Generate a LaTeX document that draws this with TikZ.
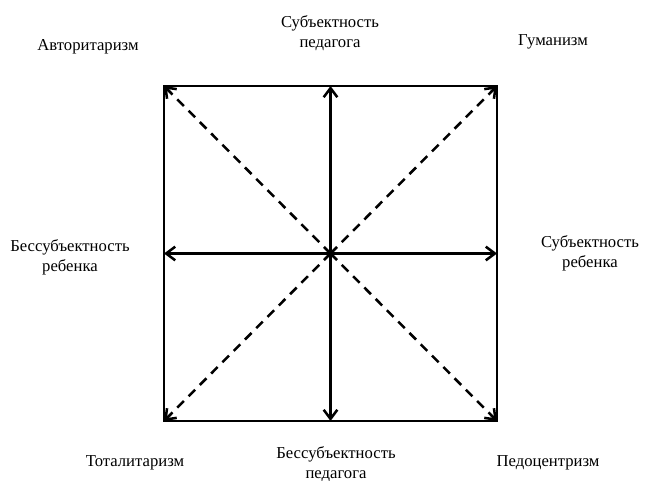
\documentclass[tikz,border=0pt]{standalone}
\usepackage{fontspec}
\setmainfont{Liberation Serif}
\usetikzlibrary{arrows.meta}

\tikzset{
    axis/.style={line width=1.9pt, -{Straight Barb[length=2.4mm, width=3.6mm]}},
    diag/.style={axis, dash pattern=on 7pt off 5pt},
    lbl/.style={align=center, font=\fontsize{12.5}{15}\selectfont}
}

\begin{document}
\begin{tikzpicture}[x=0.75pt, y=-0.75pt]
    \useasboundingbox (0,0) rectangle (664,481);

    % square and its points
    \draw[line width=1.9pt] (164,86) rectangle (497,421);
    \coordinate (c) at (330.5,253.5);
    \coordinate (nw) at (164,86);
    \coordinate (ne) at (497,86);
    \coordinate (sw) at (164,421);
    \coordinate (se) at (497,421);
    \coordinate (n) at (330.5,86);
    \coordinate (s) at (330.5,421);
    \coordinate (w) at (164,253.5);
    \coordinate (e) at (497,253.5);

    % axes
    \foreach \p in {n,s,w,e}
    \draw[axis] (c) -- (\p);

    \foreach \p in {nw,ne,sw,se}
    \draw[diag] (c) -- (\p);

    % labels
    \node[lbl] (avt) at (88,47) {Авторитаризм};
    \node[lbl] (sped) at (330,33) {Субъектность\\педагога};
    \node[lbl] (gum) at (553,42) {Гуманизм};
    \node[lbl] (breb) at (70,257) {Бессубъектность\\ребенка};
    \node[lbl] (sreb) at (590,253) {Субъектность\\ребенка};
    \node[lbl] (tot) at (135,463) {Тоталитаризм};
    \node[lbl] (bped) at (336,464) {Бессубъектность\\педагога};
    \node[lbl] (ped) at (548,463) {Педоцентризм};
\end{tikzpicture}
\end{document}
